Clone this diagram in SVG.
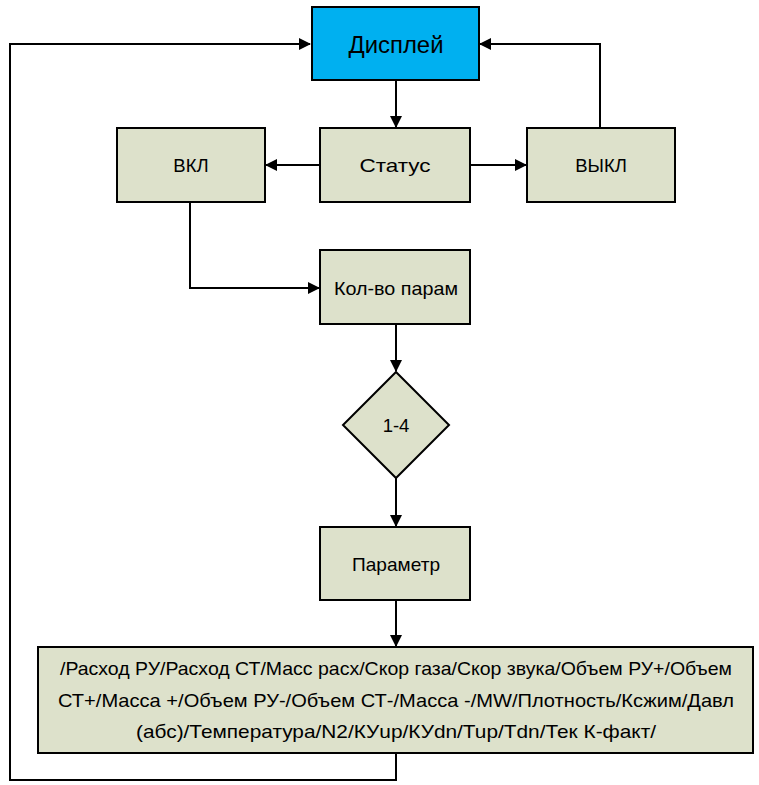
<svg xmlns="http://www.w3.org/2000/svg" width="759" height="785" viewBox="0 0 759 785">
<style>
.n{fill:#DDE1CB;stroke:#000;stroke-width:2}
.t{font-family:"Liberation Sans",Arial,sans-serif;font-size:18.5px;fill:#000;text-anchor:middle;dominant-baseline:central}
.c{fill:none;stroke:#000;stroke-width:2}
</style>
<defs>
<marker id="a" markerWidth="12" markerHeight="12" refX="11" refY="6" orient="auto" markerUnits="userSpaceOnUse">
<path d="M0,0 L12,6 L0,12 Z" fill="#000"/>
</marker>
</defs>
<rect width="759" height="785" fill="#fff"/>
<g id="connectors">
<path class="c" d="M396,80 V127" marker-end="url(#a)"/>
<path class="c" d="M320,165 H266" marker-end="url(#a)"/>
<path class="c" d="M470,165 H526" marker-end="url(#a)"/>
<path class="c" d="M600,128 V44 H480" marker-end="url(#a)"/>
<path class="c" d="M190,202 V288 H319" marker-end="url(#a)"/>
<path class="c" d="M396,324 V371" marker-end="url(#a)"/>
<path class="c" d="M396,478 V526" marker-end="url(#a)"/>
<path class="c" d="M396,600 V646" marker-end="url(#a)"/>
<path class="c" d="M396,753 V780 H10 V44 H310" marker-end="url(#a)"/>
</g>
<g id="display">
<rect x="312" y="7" width="167" height="73" fill="#00B0F0" stroke="#000" stroke-width="2"/>
<text class="t" x="396" y="45" style="font-size:23px" textLength="95" lengthAdjust="spacingAndGlyphs">Дисплей</text>
</g>
<g id="vkl">
<rect class="n" x="117" y="128" width="148" height="74"/>
<text class="t" x="191" y="165">ВКЛ</text>
</g>
<g id="status">
<rect class="n" x="320" y="128" width="150" height="74"/>
<text class="t" x="395" y="165" textLength="71" lengthAdjust="spacingAndGlyphs">Статус</text>
</g>
<g id="vykl">
<rect class="n" x="527" y="128" width="148" height="74"/>
<text class="t" x="601" y="165">ВЫКЛ</text>
</g>
<g id="kolvo">
<rect class="n" x="320" y="250" width="150" height="74"/>
<text class="t" x="396" y="288" textLength="124" lengthAdjust="spacingAndGlyphs">Кол-во парам</text>
</g>
<g id="decision">
<path class="n" d="M396,372 L449,425 L396,478 L343,425 Z"/>
<text class="t" x="396" y="425">1-4</text>
</g>
<g id="param">
<rect class="n" x="320" y="527" width="150" height="73"/>
<text class="t" x="396" y="564" textLength="88" lengthAdjust="spacingAndGlyphs">Параметр</text>
</g>
<g id="list">
<rect class="n" x="38" y="647" width="715" height="106"/>
<text class="t" x="396" y="668" textLength="672" lengthAdjust="spacingAndGlyphs">/Расход РУ/Расход СТ/Масс расх/Скор газа/Скор звука/Объем РУ+/Объем</text>
<text class="t" x="396" y="700" textLength="676" lengthAdjust="spacingAndGlyphs">СТ+/Масса +/Объем РУ-/Объем СТ-/Масса -/MW/Плотность/Ксжим/Давл</text>
<text class="t" x="396" y="731" textLength="520" lengthAdjust="spacingAndGlyphs">(абс)/Температура/N2/КУup/КУdn/Tup/Tdn/Тек К-факт/</text>
</g>
</svg>
